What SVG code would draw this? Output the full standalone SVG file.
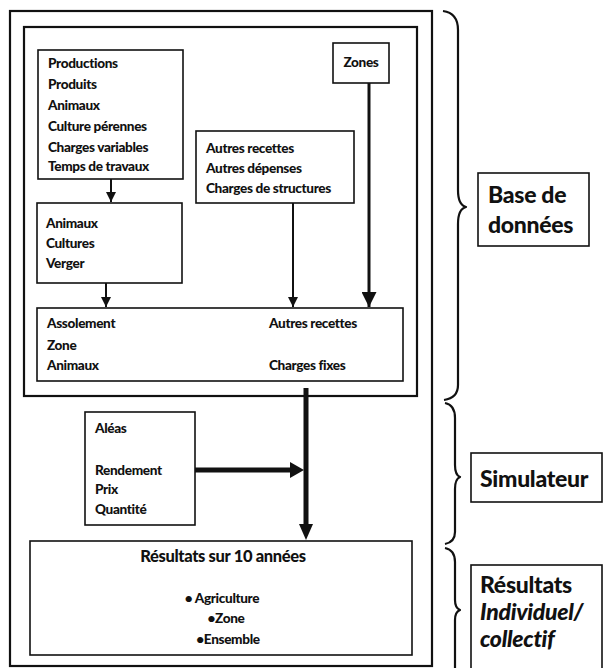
<svg xmlns="http://www.w3.org/2000/svg" width="603" height="668" viewBox="0 0 603 668">
<style>
.box{fill:none;stroke:#111;stroke-width:1.6}
.frame{fill:none;stroke:#111;stroke-width:2.2}
.t{font-family:Lato,"Open Sans","Liberation Sans",sans-serif;font-weight:900;font-size:13.6px;fill:#111;letter-spacing:-0.35px}
.title{font-size:16.5px}
.big{font-family:Lato,"Open Sans","Liberation Sans",sans-serif;font-weight:900;font-size:23px;fill:#111;letter-spacing:-0.3px}
.brace{fill:none;stroke:#111;stroke-width:2.2;stroke-linejoin:round}
.ln{stroke:#111;fill:none}
</style>
<defs>
<marker id="ah" viewBox="0 0 10 10" refX="10" refY="5" markerWidth="5" markerHeight="5" markerUnits="strokeWidth" orient="auto">
<path d="M0,0 L10,5 L0,10 z" fill="#111"/>
</marker>
</defs>
<rect width="603" height="668" fill="#fff"/>
<g id="frame-outer"><rect class="frame" x="10" y="11" width="422" height="655"/></g>
<g id="frame-base"><rect class="frame" x="24" y="27" width="393" height="369"/></g>

<g id="n-productions">
<rect class="box" x="38" y="50" width="145" height="129"/>
<text class="t" x="48" y="68">Productions</text>
<text class="t" x="48" y="89">Produits</text>
<text class="t" x="48" y="110">Animaux</text>
<text class="t" x="48" y="131">Culture pérennes</text>
<text class="t" x="48" y="152">Charges variables</text>
<text class="t" x="48" y="171">Temps de travaux</text>
</g>
<g id="n-zones">
<rect class="box" x="333" y="43" width="56" height="40"/>
<text class="t" x="361" y="67" text-anchor="middle">Zones</text>
</g>
<g id="n-autres">
<rect class="box" x="196" y="131" width="158" height="72"/>
<text class="t" x="206" y="153">Autres recettes</text>
<text class="t" x="206" y="173">Autres dépenses</text>
<text class="t" x="206" y="193">Charges de structures</text>
</g>
<g id="n-animaux">
<rect class="box" x="37" y="203" width="145" height="80"/>
<text class="t" x="46" y="228">Animaux</text>
<text class="t" x="46" y="248">Cultures</text>
<text class="t" x="46" y="268">Verger</text>
</g>
<g id="n-assolement">
<rect class="box" x="37" y="308" width="366" height="73"/>
<text class="t" x="47" y="328">Assolement</text>
<text class="t" x="47" y="350">Zone</text>
<text class="t" x="47" y="370">Animaux</text>
<text class="t" x="269" y="328">Autres recettes</text>
<text class="t" x="269" y="370">Charges fixes</text>
</g>
<g id="n-aleas">
<rect class="box" x="85" y="412" width="110" height="113"/>
<text class="t" x="95" y="433">Aléas</text>
<text class="t" x="95" y="475">Rendement</text>
<text class="t" x="95" y="494">Prix</text>
<text class="t" x="95" y="514">Quantité</text>
</g>
<g id="n-resultats">
<rect class="box" x="30" y="541" width="382" height="114"/>
<text class="t title" x="223" y="562" text-anchor="middle">Résultats sur 10 années</text>
<text class="t" x="222" y="603" text-anchor="middle">• Agriculture</text>
<text class="t" x="226" y="623" text-anchor="middle">•Zone</text>
<text class="t" x="228" y="644" text-anchor="middle">•Ensemble</text>
</g>

<g id="connectors">
<line class="ln" x1="111" y1="179" x2="111" y2="202" stroke-width="2" marker-end="url(#ah)"/>
<line class="ln" x1="106" y1="283" x2="106" y2="307" stroke-width="2" marker-end="url(#ah)"/>
<line class="ln" x1="293" y1="203" x2="293" y2="307" stroke-width="2" marker-end="url(#ah)"/>
<line class="ln" x1="369" y1="83" x2="369" y2="307" stroke-width="3" marker-end="url(#ah)"/>
<line class="ln" x1="306" y1="388" x2="306" y2="525" stroke-width="5"/>
<path d="M299,524 L313,524 L306,540 z" fill="#111"/>
<line class="ln" x1="195" y1="470" x2="291" y2="470" stroke-width="5"/>
<path d="M290,462 L290,478 L304,470 z" fill="#111"/>
</g>

<g id="brace-base">
<path class="brace" d="M443,11 Q458,13 458,30 L458,190 Q458,205 466,207 Q458,209 458,224 L458,385 Q458,398 444,400"/>
</g>
<g id="label-base">
<rect class="box" x="478" y="173" width="111" height="73"/>
<text class="big" x="488" y="203">Base de</text>
<text class="big" x="488" y="233">données</text>
</g>
<g id="brace-sim">
<path class="brace" d="M445,403 Q455,405 455,418 L455,465 Q455,475 460,477 Q455,479 455,489 L455,532 Q455,542 445,544"/>
</g>
<g id="label-sim">
<rect class="box" x="471" y="453" width="131" height="49"/>
<text class="big" x="480" y="487">Simulateur</text>
</g>
<g id="brace-res">
<path class="brace" d="M445,548 Q455,550 455,562 L455,600 Q455,608 460,610 Q455,612 455,620 L455,668"/>
</g>
<g id="label-res">
<rect class="box" x="471" y="565" width="131" height="110"/>
<text class="big" x="480" y="593">Résultats</text>
<text class="big" x="480" y="620" font-style="italic">Individuel/</text>
<text class="big" x="480" y="647" font-style="italic">collectif</text>
</g>
</svg>
